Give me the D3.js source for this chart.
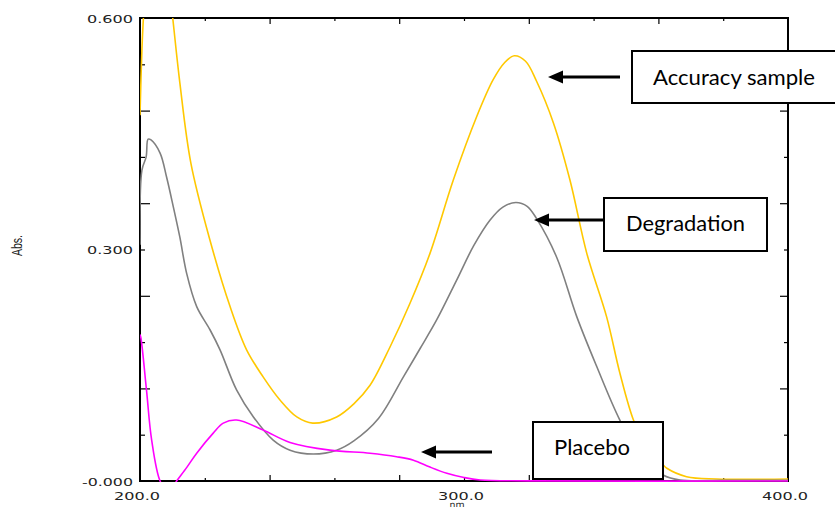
<!DOCTYPE html>
<html>
<head>
<meta charset="utf-8">
<script src="https://cdn.jsdelivr.net/npm/d3@7"></script>
<style>
  html, body { margin: 0; padding: 0; background: #ffffff; }
  svg { display: block; }
</style>
</head>
<body>
<script>
// ---------- data (wavelength nm, absorbance) ----------
const accuracyNm  = [200.0, 200.6, 201.2, 203.0, 206.0, 208.5, 210.1, 212.3, 215.7, 221.6, 227.8, 232.9, 238.0, 243.2, 248.4, 253.3, 260.7, 266.0, 271.0, 277.2, 283.3, 289.5, 296.7, 303.9, 309.0, 312.5, 315.5, 319.0, 322.4, 327.6, 332.7, 337.9, 344.0, 348.1, 352.3, 356.5, 361.4, 362.6, 368.7, 378.0, 400.0];
const accuracyAbs = [0.474, 0.560, 0.610, 0.700, 0.710, 0.660, 0.600, 0.516, 0.412, 0.312, 0.226, 0.170, 0.135, 0.105, 0.083, 0.075, 0.083, 0.100, 0.124, 0.174, 0.230, 0.295, 0.390, 0.472, 0.520, 0.542, 0.551, 0.544, 0.518, 0.464, 0.390, 0.295, 0.213, 0.140, 0.079, 0.042, 0.021, 0.0165, 0.0056, 0.0026, 0.0026];

const degradNm  = [200.0, 200.6, 201.9, 202.5, 203.4, 206.2, 208.2, 210.3, 212.3, 214.4, 217.5, 221.6, 224.7, 229.8, 235.0, 241.1, 246.3, 253.5, 260.7, 266.0, 273.6, 281.3, 286.5, 291.6, 297.7, 303.0, 308.0, 312.0, 316.0, 319.5, 322.4, 328.6, 334.8, 341.0, 348.1, 354.5, 361.4, 366.7, 380.0, 400.0];
const degradAbs = [0.306, 0.403, 0.420, 0.443, 0.442, 0.425, 0.394, 0.355, 0.316, 0.269, 0.226, 0.196, 0.170, 0.118, 0.083, 0.053, 0.040, 0.035, 0.040, 0.052, 0.081, 0.135, 0.172, 0.209, 0.260, 0.305, 0.338, 0.355, 0.361, 0.356, 0.340, 0.290, 0.213, 0.148, 0.079, 0.032, 0.0078, 0.0013, 0.0008, 0.0008];

const placeboNm  = [200.0, 200.3, 202.0, 203.6, 206.2, 208.7, 211.3, 214.5, 217.5, 222.6, 225.7, 229.8, 238.0, 246.3, 258.6, 271.0, 279.2, 284.4, 289.5, 294.7, 300.0, 305.0, 320.0, 400.0];
const placeboAbs = [0.190, 0.185, 0.118, 0.053, 0.000, -0.015, 0.000, 0.018, 0.036, 0.062, 0.075, 0.079, 0.066, 0.050, 0.040, 0.036, 0.0315, 0.027, 0.0180, 0.0100, 0.0045, 0.0013, 0.0002, 0.0000];

const xLabels = ["200.0", "300.0", "400.0"];
const xLabelValues = [200, 300, 400];
const yLabels = ["-0.000", "0.300", "0.600"];
const yLabelValues = [0, 0.3, 0.6];
const xTickMinor = [220, 260, 300, 340, 380];
const xTickMajor = [240, 280, 320, 360];
const yTickMinor = [0.06, 0.18, 0.30, 0.42, 0.54];
const yTickMajor = [0.12, 0.24, 0.36, 0.48];

const seriesNames  = ["Accuracy sample", "Degradation", "Placebo"];
const seriesColors = ["#ffc800", "#808080", "#ff00ff"];

// ---------- layout ----------
const W = 835, H = 509;
const L = 140, R = 788, T = 18, B = 481;

const svg = d3.select("body").append("svg").attr("width", W).attr("height", H);

const x = d3.scaleLinear().domain([200, 400]).range([L, R]);
const y = d3.scaleLinear().domain([0, 0.6]).range([B, T]);

// ---------- axes ticks (inward) ----------
function addAxis(gen, tx, ty) {
  const g = svg.append("g").attr("transform", `translate(${tx},${ty})`).call(gen);
  g.select(".domain").remove();
  g.selectAll(".tick line").attr("stroke", "#000").attr("stroke-width", 1.2);
  g.selectAll(".tick text").remove();
  return g;
}
addAxis(d3.axisBottom(x).tickValues(xTickMinor).tickSize(-3).tickSizeOuter(0), 0, B);
addAxis(d3.axisBottom(x).tickValues(xTickMajor).tickSize(-6).tickSizeOuter(0), 0, B);
addAxis(d3.axisTop(x).tickValues(xTickMinor).tickSize(-3).tickSizeOuter(0), 0, T);
addAxis(d3.axisTop(x).tickValues(xTickMajor).tickSize(-6).tickSizeOuter(0), 0, T);
addAxis(d3.axisLeft(y).tickValues(yTickMinor).tickSize(-5).tickSizeOuter(0), L, 0);
addAxis(d3.axisLeft(y).tickValues(yTickMajor).tickSize(-10).tickSizeOuter(0), L, 0);
addAxis(d3.axisRight(y).tickValues(yTickMinor).tickSize(-4).tickSizeOuter(0), R, 0);
addAxis(d3.axisRight(y).tickValues(yTickMajor).tickSize(-8).tickSizeOuter(0), R, 0);

// frame
svg.append("rect")
  .attr("x", L).attr("y", T).attr("width", R - L).attr("height", B - T)
  .attr("fill", "none").attr("stroke", "#000").attr("stroke-width", 2);

// tick labels
const labFont = "'DejaVu Sans', sans-serif";
svg.append("g").selectAll("text").data(xLabelValues).join("text")
  .attr("x", d => x(d) - 3).attr("y", 499.5)
  .attr("text-anchor", "middle")
  .attr("font-family", labFont).attr("font-size", 10.5)
  .attr("textLength", 46).attr("lengthAdjust", "spacingAndGlyphs")
  .attr("fill", "#222")
  .text((d, i) => xLabels[i]);

svg.append("g").selectAll("text").data(yLabelValues).join("text")
  .attr("x", 133).attr("y", d => y(d) + 4.5)
  .attr("text-anchor", "end")
  .attr("font-family", labFont).attr("font-size", 10.5)
  .attr("textLength", (d, i) => yLabels[i].length === 6 ? 51 : 46)
  .attr("lengthAdjust", "spacingAndGlyphs")
  .attr("fill", "#222")
  .text((d, i) => yLabels[i]);

// axis titles
svg.append("text")
  .attr("x", x(300) - 7).attr("y", 507)
  .attr("text-anchor", "middle")
  .attr("font-family", labFont).attr("font-size", 7.5)
  .attr("textLength", 15).attr("lengthAdjust", "spacingAndGlyphs")
  .attr("fill", "#222")
  .text("nm");

svg.append("text")
  .attr("transform", `translate(22,${y(0.3) - 4}) rotate(-90)`)
  .attr("text-anchor", "middle")
  .attr("font-family", "'Liberation Sans Narrow', 'Liberation Sans', sans-serif").attr("font-size", 14)
  .attr("textLength", 21).attr("lengthAdjust", "spacingAndGlyphs")
  .attr("fill", "#222")
  .text("Abs.");

// ---------- curves ----------
svg.append("clipPath").attr("id", "plotclip")
  .append("rect").attr("x", L).attr("y", T).attr("width", R - L).attr("height", B - T + 1);

const line = d3.line()
  .x(d => x(d[0])).y(d => y(d[1]))
  .curve(d3.curveCatmullRom.alpha(0.5));

const series = [
  d3.zip(accuracyNm, accuracyAbs),
  d3.zip(degradNm, degradAbs),
  d3.zip(placeboNm, placeboAbs)
];

svg.append("g").attr("clip-path", "url(#plotclip)")
  .selectAll("path").data(series).join("path")
  .attr("d", line)
  .attr("fill", "none")
  .attr("stroke", (d, i) => seriesColors[i])
  .attr("stroke-width", 1.6)
  .attr("stroke-linejoin", "round");

// ---------- annotations ----------
const annFont = "Lato, 'Open Sans', sans-serif";
const boxes = [
  { name: seriesNames[0], x0: 632, y0: 51,  x1: 838, y1: 103, tx: 734, ty: 85,  tl: 162, ax0: 620, ax1: 548, ay: 77 },
  { name: seriesNames[1], x0: 604, y0: 198, x1: 767, y1: 251, tx: 685.5, ty: 231, tl: 119, ax0: 604, ax1: 534, ay: 220 },
  { name: seriesNames[2], x0: 533, y0: 422, x1: 663, y1: 479, tx: 592, ty: 455, tl: 76,  ax0: 492, ax1: 421, ay: 452 }
];

const ann = svg.append("g");
boxes.forEach(b => {
  ann.append("rect")
    .attr("x", b.x0).attr("y", b.y0).attr("width", b.x1 - b.x0).attr("height", b.y1 - b.y0)
    .attr("fill", "#fff").attr("stroke", "#000").attr("stroke-width", 2);
  ann.append("text")
    .attr("x", b.tx).attr("y", b.ty).attr("text-anchor", "middle")
    .attr("font-family", annFont).attr("font-size", 21)
    .attr("textLength", b.tl).attr("lengthAdjust", "spacingAndGlyphs")
    .attr("fill", "#000")
    .text(b.name);
  const headLen = 15, headHalf = 6.5;
  ann.append("line")
    .attr("x1", b.ax0).attr("y1", b.ay).attr("x2", b.ax1 + headLen - 1).attr("y2", b.ay)
    .attr("stroke", "#000").attr("stroke-width", 2.8);
  ann.append("path")
    .attr("d", `M${b.ax1},${b.ay} L${b.ax1 + headLen},${b.ay - headHalf} L${b.ax1 + headLen},${b.ay + headHalf} Z`)
    .attr("fill", "#000");
});
</script>
</body>
</html>
